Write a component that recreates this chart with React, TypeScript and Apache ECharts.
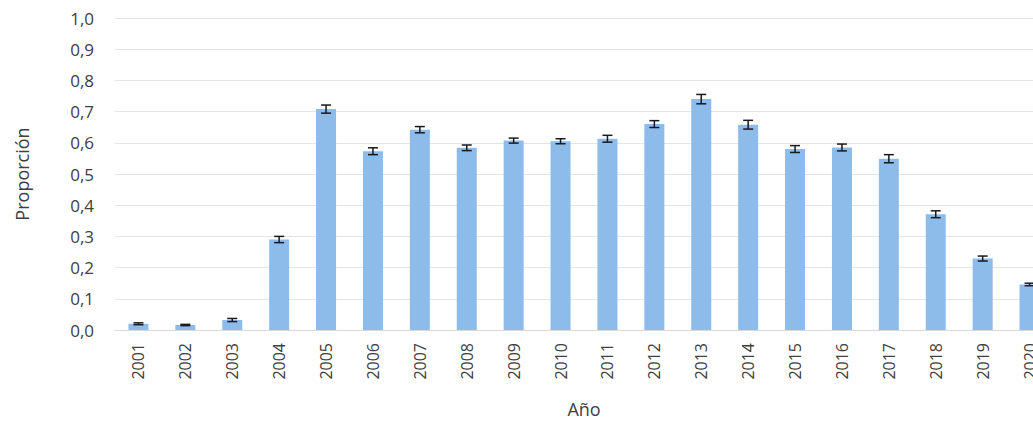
import React, { useEffect, useRef } from "react";
import * as echarts from "echarts";

const years = [
  "2001", "2002", "2003", "2004", "2005", "2006", "2007", "2008", "2009", "2010",
  "2011", "2012", "2013", "2014", "2015", "2016", "2017", "2018", "2019", "2020",
];

const proportions = [
  0.02, 0.016, 0.032, 0.29, 0.708, 0.573, 0.642, 0.584, 0.607, 0.605,
  0.613, 0.66, 0.74, 0.658, 0.58, 0.585, 0.549, 0.371, 0.229, 0.146,
];

// Half-width of each year's error bar
const errors = [
  0.003, 0.002, 0.005, 0.01, 0.013, 0.011, 0.01, 0.009, 0.008, 0.008,
  0.011, 0.011, 0.015, 0.014, 0.011, 0.011, 0.013, 0.011, 0.008, 0.004,
];

const FONT = "'Open Sans', sans-serif";
const TEXT = "#404040";

export default function App() {
  const ref = useRef<HTMLDivElement>(null);

  useEffect(() => {
    if (!ref.current) return;
    const chart = echarts.init(ref.current, undefined, { renderer: "svg" });
    const errData = years.map((_, i) => [i, proportions[i] - errors[i], proportions[i] + errors[i]]);

    chart.setOption({
      animation: false,
      backgroundColor: "#ffffff",
      grid: { left: 115, right: 7, top: 18, bottom: 92 },
      xAxis: {
        type: "category",
        data: years,
        name: "Año",
        nameLocation: "middle",
        nameGap: 70,
        nameTextStyle: { fontFamily: FONT, fontSize: 18, color: TEXT },
        axisLine: { show: true, lineStyle: { color: "#d9d9d9" } },
        axisTick: { show: false },
        axisLabel: { rotate: 90, margin: 13, fontFamily: FONT, fontSize: 16, color: TEXT },
      },
      yAxis: {
        type: "value",
        min: 0,
        max: 1,
        interval: 0.1,
        name: "Proporción",
        nameLocation: "middle",
        nameGap: 84,
        nameTextStyle: { fontFamily: FONT, fontSize: 18, color: TEXT },
        axisLine: { show: false },
        axisTick: { show: false },
        splitLine: { lineStyle: { color: "#e4e4e4", width: 1 } },
        axisLabel: {
          margin: 21,
          fontFamily: FONT,
          fontSize: 17,
          color: TEXT,
          formatter: (v: number) => v.toFixed(1).replace(".", ","),
        },
      },
      series: [
        {
          type: "bar",
          data: proportions,
          barWidth: 20,
          itemStyle: { color: "#8dbbea" },
        },
        {
          type: "custom",
          data: errData,
          z: 5,
          renderItem: (_params: any, api: any) => {
            const i = api.value(0);
            const lo = api.coord([i, api.value(1)]);
            const hi = api.coord([i, api.value(2)]);
            const w = 5;
            const style = { stroke: "#1a1a1a", lineWidth: 1.5 };
            return {
              type: "group",
              children: [
                { type: "line", shape: { x1: lo[0], y1: lo[1], x2: hi[0], y2: hi[1] }, style },
                { type: "line", shape: { x1: hi[0] - w, y1: hi[1], x2: hi[0] + w, y2: hi[1] }, style },
                { type: "line", shape: { x1: lo[0] - w, y1: lo[1], x2: lo[0] + w, y2: lo[1] }, style },
              ],
            };
          },
        },
      ],
    });

    return () => chart.dispose();
  }, []);

  return (
    <div
      style={{
        position: "fixed",
        left: 0,
        top: 0,
        width: 1033,
        height: 423,
        overflow: "hidden",
        background: "#ffffff",
      }}
    >
      <div ref={ref} style={{ width: 1060, height: 423 }} />
    </div>
  );
}
